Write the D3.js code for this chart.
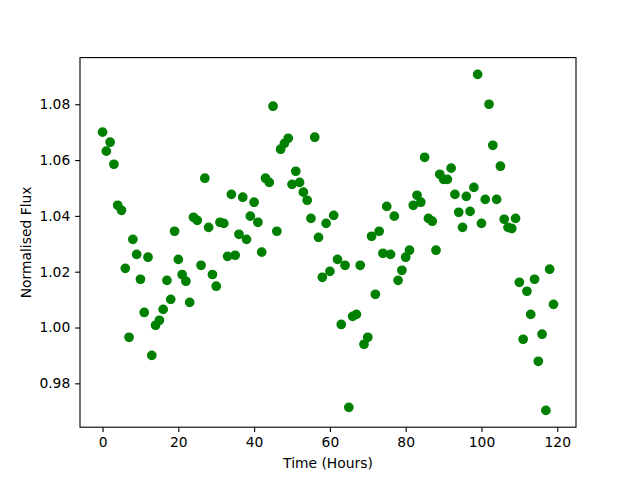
<!DOCTYPE html>
<html>
<head>
<meta charset="utf-8">
<script src="https://cdn.jsdelivr.net/npm/d3@7"></script>
<style>
  body { margin: 0; background: #fff; }
  svg { display: block; }
  text { font-family: "DejaVu Sans", sans-serif; }
</style>
</head>
<body>
<svg id="chart" width="640" height="480"></svg>
<script>
// Data
const timeHours = d3.range(0, 120);
const flux = [
  1.0700, 1.0632, 1.0664, 1.0585, 1.0438, 1.0420, 1.0212, 0.9965, 1.0316, 1.0262,
  1.0173, 1.0054, 1.0252, 0.9900, 1.0008, 1.0026, 1.0065, 1.0169, 1.0101, 1.0345,
  1.0244, 1.0190, 1.0166, 1.0090, 1.0395, 1.0384, 1.0223, 1.0535, 1.0359, 1.0190,
  1.0148, 1.0377, 1.0373, 1.0255, 1.0477, 1.0259, 1.0334, 1.0467, 1.0316, 1.0399,
  1.0449, 1.0377, 1.0270, 1.0535, 1.0520, 1.0793, 1.0345, 1.0639, 1.0660, 1.0678,
  1.0513, 1.0560, 1.0520, 1.0485, 1.0456, 1.0391, 1.0682, 1.0323, 1.0180, 1.0373,
  1.0201, 1.0402, 1.0244, 1.0011, 1.0223, 0.9714, 1.0040, 1.0047, 1.0223, 0.9940,
  0.9965, 1.0327, 1.0119, 1.0345, 1.0266, 1.0434, 1.0262, 1.0399, 1.0169, 1.0205,
  1.0252, 1.0277, 1.0438, 1.0474, 1.0449, 1.0610, 1.0391, 1.0381, 1.0277, 1.0549,
  1.0531, 1.0531, 1.0571, 1.0477, 1.0413, 1.0359, 1.0470, 1.0416, 1.0502, 1.0907,
  1.0373, 1.0459, 1.0800, 1.0653, 1.0459, 1.0578, 1.0388, 1.0359, 1.0355, 1.0391,
  1.0162, 0.9958, 1.0130, 1.0047, 1.0173, 0.9879, 0.9976, 0.9703, 1.0209, 1.0083
];
const xTicks = [0, 20, 40, 60, 80, 100, 120];
const yTicks = [0.98, 1.00, 1.02, 1.04, 1.06, 1.08];
const xLabel = "Time (Hours)";
const yLabel = "Normalised Flux";

(function () {
  const plotL = 80, plotR = 576, plotT = 57.6, plotB = 427.2;
  const pt = 100 / 72;

  const svg = d3.select("#chart");

  // matplotlib-like 5% margins
  const xMin = d3.min(timeHours), xMax = d3.max(timeHours);
  const yMin = d3.min(flux), yMax = d3.max(flux);
  const xm = (xMax - xMin) * 0.05, ym = (yMax - yMin) * 0.05;

  const x = d3.scaleLinear().domain([xMin - xm, xMax + xm]).range([plotL, plotR]);
  const y = d3.scaleLinear().domain([yMin - ym, yMax + ym]).range([plotB, plotT]);

  const fontSize = 10 * pt;
  const tickLen = 3.5 * pt;
  const tickPad = 3.5 * pt;

  // points
  svg.append("g")
    .selectAll("circle")
    .data(timeHours.map((t, i) => [t, flux[i]]))
    .join("circle")
    .attr("cx", d => x(d[0]))
    .attr("cy", d => y(d[1]))
    .attr("r", 3 * pt)
    .attr("fill", "#008000")
    .attr("stroke", "#008000")
    .attr("stroke-width", 1 * pt);

  // axes
  const xAxis = d3.axisBottom(x).tickValues(xTicks).tickFormat(d3.format("d"))
    .tickSizeInner(tickLen).tickSizeOuter(0).tickPadding(tickPad);
  const yAxis = d3.axisLeft(y).tickValues(yTicks).tickFormat(d3.format(".2f"))
    .tickSizeInner(tickLen).tickSizeOuter(0).tickPadding(tickPad);

  const gx = svg.append("g").attr("transform", `translate(0,${plotB})`).call(xAxis);
  const gy = svg.append("g").attr("transform", `translate(${plotL},0)`).call(yAxis);

  [gx, gy].forEach(g => {
    g.select(".domain").remove();
    g.selectAll(".tick line").attr("stroke", "#000").attr("stroke-width", 0.8 * pt);
    g.selectAll(".tick text").attr("fill", "#000")
      .style("font-family", "DejaVu Sans, sans-serif")
      .style("font-size", fontSize + "px");
  });

  // spines
  svg.append("rect")
    .attr("x", plotL).attr("y", plotT)
    .attr("width", plotR - plotL).attr("height", plotB - plotT)
    .attr("fill", "none").attr("stroke", "#000").attr("stroke-width", 0.8 * pt);

  // labels
  svg.append("text")
    .attr("x", (plotL + plotR) / 2).attr("y", 468)
    .attr("text-anchor", "middle")
    .style("font-size", fontSize + "px")
    .text(xLabel);

  svg.append("text")
    .attr("transform", `translate(31,${(plotT + plotB) / 2}) rotate(-90)`)
    .attr("text-anchor", "middle")
    .style("font-size", fontSize + "px")
    .text(yLabel);
})();
</script>
</body>
</html>
